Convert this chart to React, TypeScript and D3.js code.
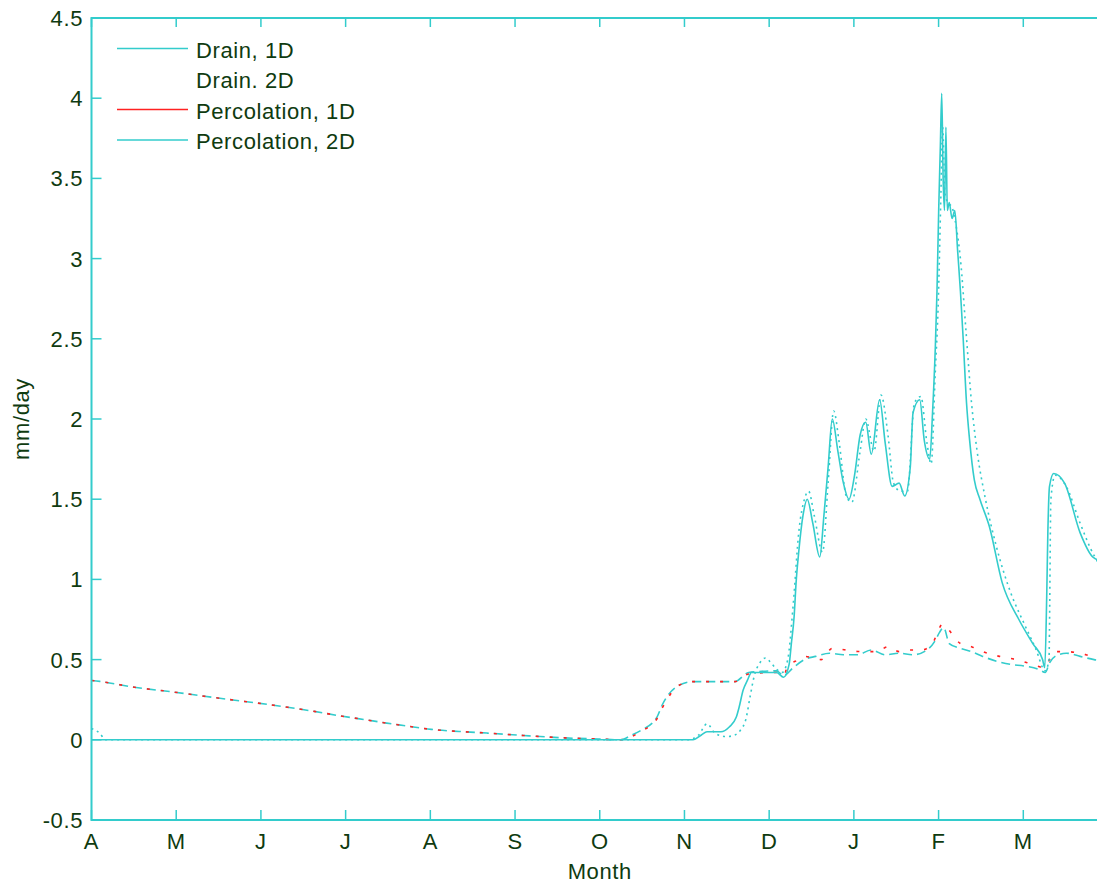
import React from 'react';
import * as d3 from 'd3';

// month tick labels, April -> March
const monthLabels = ['A', 'M', 'J', 'J', 'A', 'S', 'O', 'N', 'D', 'J', 'F', 'M'];
const yTickValues = [-0.5, 0, 0.5, 1, 1.5, 2, 2.5, 3, 3.5, 4, 4.5];
const seriesNames = ['Drain, 1D', 'Drain. 2D', 'Percolation, 1D', 'Percolation, 2D'];

// day of year (from 1 April) and mm/day
const drain1DDays = [0, 216, 219, 221, 226, 229, 231.5, 232.5, 234, 235.5, 237, 246, 248.5, 250.5, 251.3, 252.3, 253, 254, 255.5, 257,
  259, 261.5, 263, 264.5, 266, 268, 270, 272, 274, 276, 278, 280, 283, 285, 287.5, 290, 292, 294, 295, 297.4,
  299, 301, 302, 303, 303.6, 304.2, 304.8, 305.3, 305.8, 306.3, 306.8, 307.3, 308, 309, 310, 311, 312, 313, 314.2, 315.3,
  317, 319, 322.4, 327, 333, 338, 341.5, 342.3, 343, 343.4, 344, 345.5, 349.4, 355, 359.5, 362, 365];
const drain1D = [0, 0, 0.03, 0.05, 0.05, 0.08, 0.14, 0.2, 0.31, 0.37, 0.42, 0.42, 0.39, 0.47, 0.6, 0.77, 0.98, 1.18, 1.4, 1.5,
  1.35, 1.14, 1.4, 1.7, 2.0, 1.8, 1.6, 1.5, 1.65, 1.9, 1.98, 1.78, 2.12, 1.85, 1.58, 1.6, 1.52, 1.7, 2.04, 2.12,
  1.87, 1.75, 2.04, 2.45, 2.8, 3.3, 3.7, 4.03, 3.5, 3.3, 3.82, 3.3, 3.35, 3.25, 3.3, 3.05, 2.8, 2.5, 2.1, 1.87,
  1.62, 1.5, 1.33, 0.98, 0.75, 0.6, 0.5, 0.45, 0.9, 1.29, 1.58, 1.66, 1.6, 1.29, 1.14, 1.12, 1.18];

const drain2DDays = [0, 3, 5, 214, 218, 221, 224, 228, 231, 233, 235, 236.5, 238, 240, 242, 244, 246, 248, 250, 252,
  254, 256, 257.5, 259.5, 262.5, 264.5, 266.5, 268.5, 271, 273, 276, 278, 281, 283.5, 286, 288, 290.5, 293, 295.5, 297.8,
  300, 301.5, 303, 304, 305, 305.6, 306.5, 307.5, 309, 310.5, 312, 314, 316, 318, 321, 325, 330, 335, 339, 342.5,
  343.8, 344.5, 346, 350, 355, 360, 363, 365];
const drain2D = [0.07, 0.04, 0, 0, 0.03, 0.1, 0.04, 0.02, 0.03, 0.06, 0.13, 0.27, 0.4, 0.48, 0.51, 0.48, 0.44, 0.42, 0.5, 0.85,
  1.3, 1.5, 1.55, 1.4, 1.17, 1.6, 2.05, 1.85, 1.52, 1.48, 1.8, 2.0, 1.8, 2.15, 1.9, 1.6, 1.55, 1.55, 2.1, 2.14,
  1.85, 1.72, 2.3, 2.7, 3.4, 3.82, 3.4, 3.35, 3.32, 3.2, 3.0, 2.55, 2.1, 1.8, 1.5, 1.2, 0.92, 0.72, 0.57, 0.43,
  0.5, 1.5, 1.65, 1.58, 1.35, 1.15, 1.08, 1.12];

const perc1DDays = [0, 3, 16, 28, 43, 55, 66, 80, 89, 101, 106, 112, 122, 132, 142, 155, 170, 182, 190, 194,
  197, 203, 205, 211, 216, 231, 236, 246, 248.5, 250, 254, 256, 262, 266, 271, 276, 282, 286, 290, 294,
  298, 302, 304, 305.5, 307, 312, 316, 320, 326, 332, 338, 342, 344, 346, 350, 355, 360, 365];
const perc1D = [0.37, 0.364, 0.326, 0.301, 0.266, 0.239, 0.214, 0.177, 0.15, 0.118, 0.104, 0.089, 0.065, 0.052, 0.042, 0.027, 0.012, 0.005, 0, 0.02,
  0.05, 0.13, 0.2, 0.34, 0.363, 0.363, 0.41, 0.42, 0.4, 0.46, 0.5, 0.52, 0.5, 0.57, 0.56, 0.55, 0.55, 0.58, 0.55, 0.56,
  0.56, 0.6, 0.68, 0.72, 0.7, 0.6, 0.58, 0.55, 0.52, 0.5, 0.47, 0.45, 0.5, 0.55, 0.55, 0.54, 0.52, 0.52];

const perc2DDays = [0, 3, 16, 28, 43, 55, 66, 80, 89, 101, 106, 112, 122, 132, 142, 155, 170, 182, 190, 194,
  197, 203, 205, 211, 216, 231, 236, 246, 248.5, 252, 256, 260, 265, 270, 275, 280, 285, 290, 295, 300,
  303, 304.5, 306, 308, 312, 316, 320, 325, 330, 335, 340, 342.5, 344, 346, 350, 355, 360, 365];
const perc2D = [0.37, 0.364, 0.326, 0.301, 0.266, 0.239, 0.214, 0.177, 0.15, 0.118, 0.104, 0.089, 0.065, 0.052, 0.042, 0.027, 0.012, 0.005, 0, 0.03,
  0.056, 0.14, 0.22, 0.34, 0.363, 0.363, 0.42, 0.43, 0.4, 0.45, 0.5, 0.52, 0.54, 0.53, 0.53, 0.56, 0.53, 0.54, 0.53, 0.56,
  0.62, 0.67, 0.7, 0.6, 0.57, 0.55, 0.52, 0.49, 0.47, 0.46, 0.44, 0.42, 0.48, 0.52, 0.54, 0.52, 0.5, 0.49];

const W = 1097;
const H = 883;
const cyan = '#33cccc';
const red = '#ff2222';
const ink = '#0f3b10';
const font = '"Liberation Sans", Arial, sans-serif';
const fs = 22;

export default function App() {
  const left = 91.5, right = 1108, top = 18, bottom = 820;

  const x = d3.scaleLinear().domain([0, 365]).range([left, right]);
  const y = d3.scaleLinear().domain([-0.5, 4.5]).range([bottom, top]);

  const line = d3.line<[number, number]>()
    .x(d => x(d[0]))
    .y(d => y(d[1]))
    .curve(d3.curveMonotoneX);

  const pts = (days: number[], vals: number[]) => days.map((d, i) => [d, vals[i]] as [number, number]);

  const series = [
    { name: seriesNames[3], d: line(pts(perc2DDays, perc2D)), color: cyan, dash: '9,5' },
    { name: seriesNames[2], d: line(pts(perc1DDays, perc1D)), color: red, dash: '3,11' },
    { name: seriesNames[1], d: line(pts(drain2DDays, drain2D)), color: cyan, dash: '2,4' },
    { name: seriesNames[0], d: line(pts(drain1DDays, drain1D)), color: cyan, dash: null },
  ];

  const monthStep = 365 / 12;
  const legendColors = [cyan, null, red, cyan];

  return (
    <div>
      <style>{`body{margin:0}`}</style>
      <svg width={W} height={H} style={{ display: 'block', background: '#fff' }} fontFamily={font} letterSpacing={0.6}>
        {series.map(s => (
          <path key={s.name} d={s.d ?? ''} fill="none" stroke={s.color} strokeWidth={1.6}
            strokeDasharray={s.dash ?? undefined} />
        ))}

        {/* axes box */}
        <rect x={left} y={top} width={right - left} height={bottom - top} fill="none" stroke={cyan} strokeWidth={2} />

        {monthLabels.map((m, i) => {
          const tx = x(i * monthStep);
          return (
            <g key={'m' + i}>
              <line x1={tx} x2={tx} y1={bottom} y2={bottom - 10} stroke={cyan} strokeWidth={1.5} />
              <line x1={tx} x2={tx} y1={top} y2={top + 9} stroke={cyan} strokeWidth={1.5} />
              <text x={tx} y={849} textAnchor="middle" fontSize={fs} fill={ink}>{m}</text>
            </g>
          );
        })}

        {yTickValues.map(v => {
          const ty = y(v);
          return (
            <g key={'y' + v}>
              <line x1={left} x2={left + 10} y1={ty} y2={ty} stroke={cyan} strokeWidth={1.5} />
              <line x1={right} x2={right - 10} y1={ty} y2={ty} stroke={cyan} strokeWidth={1.5} />
              <text x={83} y={ty + 8} textAnchor="end" fontSize={fs} fill={ink}>{String(v)}</text>
            </g>
          );
        })}

        <text x={(left + right) / 2} y={879} textAnchor="middle" fontSize={fs} fill={ink}>Month</text>
        <text transform={`translate(29,${(top + bottom) / 2}) rotate(-90)`} textAnchor="middle" fontSize={fs} fill={ink}>mm/day</text>

        {seriesNames.map((n, i) => {
          const cy = 49.5 + i * 30.5;
          return (
            <g key={'l' + i}>
              {legendColors[i] && (
                <line x1={117} x2={188} y1={cy - 1} y2={cy - 1} stroke={legendColors[i] as string} strokeWidth={1.6} />
              )}
              <text x={196} y={cy + 8} fontSize={fs} fill={ink}>{n}</text>
            </g>
          );
        })}
      </svg>
    </div>
  );
}
